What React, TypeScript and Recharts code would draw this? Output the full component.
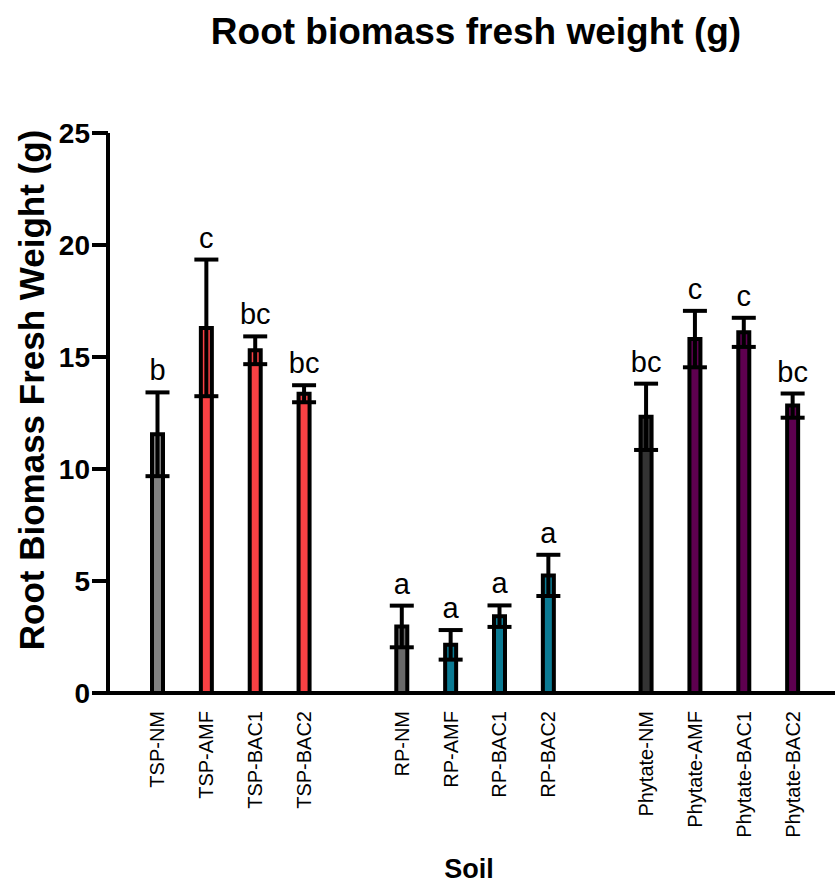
import React from "react";
import { BarChart, Bar, XAxis, YAxis, ErrorBar, Cell, LabelList } from "recharts";

const categories = [
  "TSP-NM", "TSP-AMF", "TSP-BAC1", "TSP-BAC2", "",
  "RP-NM", "RP-AMF", "RP-BAC1", "RP-BAC2", "",
  "Phytate-NM", "Phytate-AMF", "Phytate-BAC1", "Phytate-BAC2",
];
const means = [11.55, 16.3, 15.3, 13.36, null, 2.97, 2.15, 3.43, 5.25, null, 12.33, 15.8, 16.1, 12.83];
const errors = [1.87, 3.05, 0.62, 0.38, null, 0.93, 0.66, 0.48, 0.92, null, 1.48, 1.26, 0.65, 0.54];
const letters = ["b", "c", "bc", "bc", "", "a", "a", "a", "a", "", "bc", "c", "c", "bc"];
const colors = [
  "#808080", "#F94144", "#F94144", "#F94144", "#fff",
  "#6A6A6A", "#0B7B94", "#0B7B94", "#0B7B94", "#fff",
  "#333333", "#5E0050", "#5E0050", "#5E0050",
];
const yTicks = [0, 5, 10, 15, 20, 25];

const data = categories.map((name, i) => ({
  name,
  value: means[i],
  err: errors[i],
  letter: letters[i],
}));

const FONT = "Arial, 'Liberation Sans', Helvetica, sans-serif";

const XTick = (props: any) => {
  const { x, y, payload } = props;
  if (!payload.value) return null;
  return (
    <text
      x={x}
      y={y}
      transform={`rotate(-90, ${x}, ${y})`}
      textAnchor="end"
      dominantBaseline="central"
      fontFamily={FONT}
      fontSize={20}
      fill="#000"
    >
      {payload.value}
    </text>
  );
};

const YTick = (props: any) => {
  const { x, y, payload } = props;
  return (
    <text
      x={x}
      y={y}
      textAnchor="end"
      dominantBaseline="central"
      fontFamily={FONT}
      fontSize={28}
      fontWeight="bold"
      fill="#000"
    >
      {payload.value}
    </text>
  );
};

const LetterLabel = (props: any) => {
  const { x, y, width, height, value } = props;
  if (!value || typeof value !== "string") return null;
  const [letter, vs, es] = value.split("|");
  const v = parseFloat(vs);
  const e = parseFloat(es);
  if (!letter || !v || !height) return null;
  const pxPerUnit = height / v;
  const topY = y - e * pxPerUnit;
  return (
    <text
      x={x + width / 2}
      y={topY - 12}
      textAnchor="middle"
      fontFamily={FONT}
      fontSize={29}
      fill="#000"
    >
      {letter}
    </text>
  );
};

export default function App() {
  return (
    <div style={{ position: "absolute", left: 0, top: 0, width: 835, height: 884, background: "#fff" }}>
      <BarChart
        width={835}
        height={884}
        data={data}
        margin={{ top: 133, right: 0, bottom: 0, left: 30 }}
        barCategoryGap={0}
      >
        <text
          x={476}
          y={44}
          textAnchor="middle"
          fontFamily={FONT}
          fontSize={37}
          fontWeight="bold"
          fill="#000"
        >
          Root biomass fresh weight (g)
        </text>
        <text
          x={469}
          y={878}
          textAnchor="middle"
          fontFamily={FONT}
          fontSize={27}
          fontWeight="bold"
          fill="#000"
        >
          Soil
        </text>
        <text
          x={44}
          y={390}
          transform="rotate(-90, 44, 390)"
          textAnchor="middle"
          fontFamily={FONT}
          fontSize={35}
          fontWeight="bold"
          fill="#000"
        >
          Root Biomass Fresh Weight (g)
        </text>
        <XAxis
          dataKey="name"
          interval={0}
          height={191}
          padding={{ left: 25, right: 18 }}
          axisLine={{ stroke: "#000", strokeWidth: 4 }}
          tickLine={false}
          tick={<XTick />}
          tickMargin={12}
        />
        <YAxis
          width={78}
          domain={[0, 25]}
          ticks={yTicks}
          interval={0}
          axisLine={{ stroke: "#000", strokeWidth: 4 }}
          tickLine={{ stroke: "#000", strokeWidth: 4 }}
          tickSize={16}
          tick={<YTick />}
          tickMargin={2}
        />
        <Bar dataKey="value" barSize={11} stroke="#000" strokeWidth={4} isAnimationActive={false}>
          {data.map((d, i) => (
            <Cell key={i} fill={colors[i]} />
          ))}
          <ErrorBar dataKey="err" width={12} stroke="#000" strokeWidth={4} direction="y" />
          <LabelList
            dataKey={(d: any) => (d.letter ? `${d.letter}|${d.value}|${d.err}` : "")}
            content={<LetterLabel />}
          />
        </Bar>
      </BarChart>
    </div>
  );
}
